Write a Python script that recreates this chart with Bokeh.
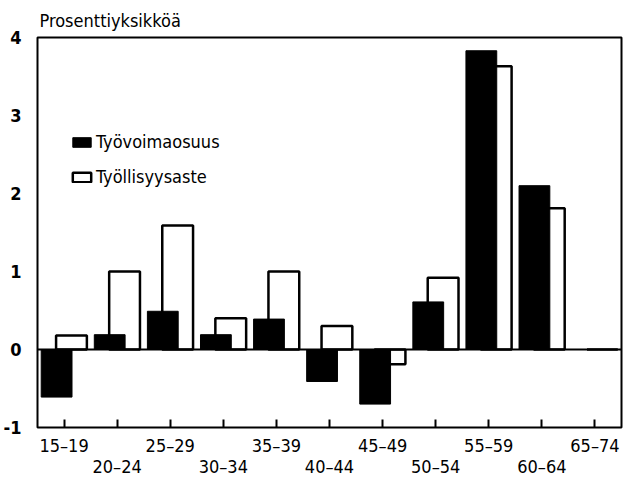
from bokeh.plotting import figure
from bokeh.models import (Range1d, FixedTicker, LinearAxis, Span, Legend, LegendItem,
                          ColumnDataSource)
from bokeh.embed import file_html
from bokeh.resources import INLINE

categories = ["15–19", "20–24", "25–29", "30–34", "35–39", "40–44",
              "45–49", "50–54", "55–59", "60–64", "65–74"]
tyovoimaosuus = [-0.61, 0.19, 0.49, 0.19, 0.39, -0.41, -0.70, 0.61, 3.83, 2.10, 0.0]
tyollisyysaste = [0.18, 1.0, 1.59, 0.40, 1.0, 0.30, -0.19, 0.92, 3.63, 1.81, 0.0]
y_ticks = [-1, 0, 1, 2, 3, 4]
y_tick_labels = ["-1", "0", "1", "2", "3", "4"]

FONT = "'Liberation Sans Narrow', 'DejaVu Sans Condensed', 'Roboto', sans-serif"

centers = [i + 0.5 for i in range(len(categories))]
src = ColumnDataSource(dict(
    x_black=[c - 0.14 for c in centers],
    x_white=[c + 0.14 for c in centers],
    v1=tyovoimaosuus, v2=tyollisyysaste))

p = figure(frame_width=584, frame_height=390, output_backend="svg", toolbar_location=None,
           x_range=Range1d(0, len(categories)), y_range=Range1d(-1, 4),
           x_axis_location=None, min_border_left=30, min_border_right=2,
           min_border_top=0, min_border_bottom=0)

p.title.text = "Prosenttiyksikköä"
p.title.text_font = FONT
p.title.text_font_size = "18px"
p.title.text_font_style = "normal"
p.title.text_color = "black"
p.title.align = "left"
p.title.offset = 2
p.title.standoff = 14

p.grid.visible = False
p.outline_line_color = "black"
p.outline_line_width = 2
p.background_fill_color = "white"
p.border_fill_color = "white"

# y axis
p.yaxis.ticker = FixedTicker(ticks=y_ticks)
p.yaxis.major_label_overrides = dict(zip(y_ticks, y_tick_labels))
p.yaxis.major_tick_line_color = None
p.yaxis.minor_tick_line_color = None
p.yaxis.axis_line_color = None
p.yaxis.major_label_standoff = 10
p.yaxis.major_label_text_font = FONT
p.yaxis.major_label_text_font_size = "18px"
p.yaxis.major_label_text_font_style = "bold"
p.yaxis.major_label_text_color = "black"

# x axes: two rows of labels
ax1 = LinearAxis(ticker=FixedTicker(ticks=centers),
                 major_label_overrides={c: (categories[i] if i % 2 == 0 else "")
                                        for i, c in enumerate(centers)})
ax1.axis_line_color = None
ax1.major_tick_in = 8
ax1.major_tick_out = 0
ax1.major_tick_line_width = 2
ax1.minor_tick_line_color = None
ax1.minor_tick_out = 0
ax1.major_label_standoff = 7
ax1.axis_label_standoff = 0
ax1.major_label_text_font = FONT
ax1.major_label_text_font_size = "18px"
ax1.major_label_text_color = "black"
p.add_layout(ax1, "below")

odd = [c for i, c in enumerate(centers) if i % 2 == 1]
ax2 = LinearAxis(ticker=FixedTicker(ticks=odd),
                 major_label_overrides={c: categories[i] for i, c in enumerate(centers) if i % 2 == 1})
ax2.axis_line_color = None
ax2.major_tick_line_color = None
ax2.minor_tick_line_color = None
ax2.major_tick_out = 0
ax2.minor_tick_out = 0
ax2.major_label_standoff = -3
ax2.axis_label_standoff = 0
ax2.major_label_text_font = FONT
ax2.major_label_text_font_size = "18px"
ax2.major_label_text_color = "black"
p.add_layout(ax2, "below")

w = p.vbar(x="x_white", top="v2", bottom=0, width=0.58, source=src,
           fill_color="white", line_color="black", line_width=2.5)
b = p.vbar(x="x_black", top="v1", bottom=0, width=0.58, source=src,
           fill_color="black", line_color="black", line_width=1)

p.add_layout(Span(location=0, dimension="width", line_color="black", line_width=2))

legend = Legend(items=[LegendItem(label="Työvoimaosuus", renderers=[b]),
                       LegendItem(label="Työllisyysaste", renderers=[w])],
                location=(33, 240), border_line_color=None, background_fill_alpha=0,
                margin=0, padding=0, spacing=14, glyph_width=23, glyph_height=12,
                label_height=20, label_standoff=3,
                label_text_font=FONT, label_text_font_size="18px",
                label_text_color="black")
p.add_layout(legend, "center")

open("out.html", "w").write(file_html(p, INLINE))
